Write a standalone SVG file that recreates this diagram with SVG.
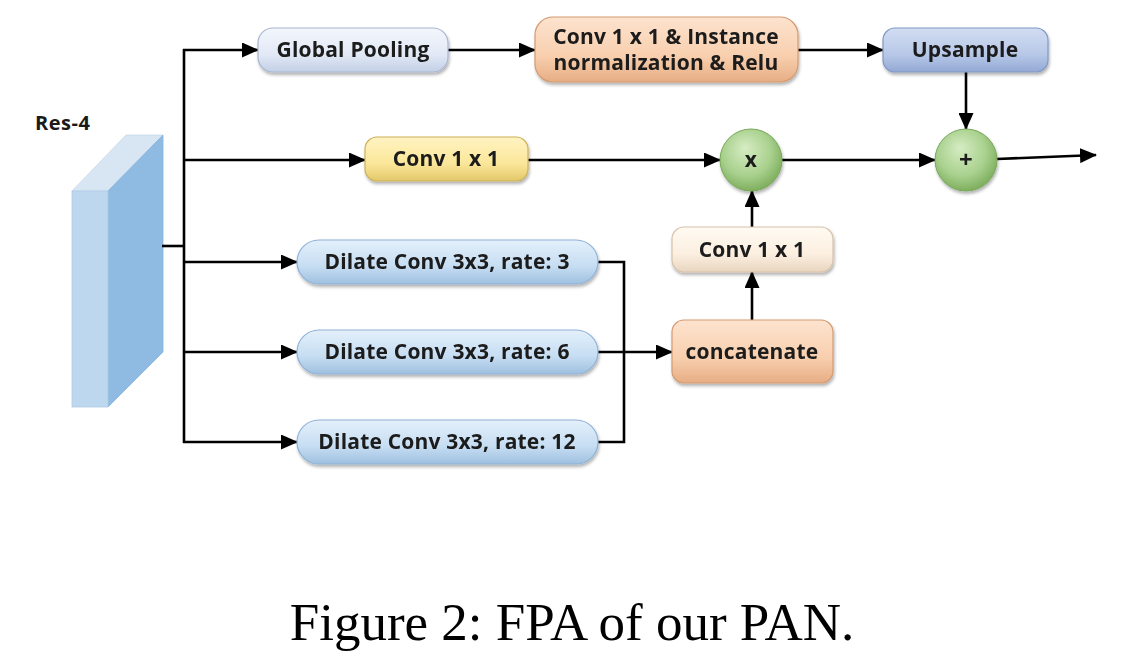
<svg xmlns="http://www.w3.org/2000/svg" width="1147" height="670" viewBox="0 0 1147 670">
<style>
.lbl{font-family:"Open Sans","Liberation Sans",sans-serif;font-weight:bold;font-size:21px;letter-spacing:0.2px;fill:#1a1a1a;text-anchor:middle}
.ln{fill:none;stroke:#000;stroke-width:2.6}
.cap{font-family:"Liberation Serif","Times New Roman",serif;font-size:53px;fill:#000;text-anchor:middle}
.box{stroke-width:1.2}
</style>
<defs>
<marker id="ah" markerUnits="userSpaceOnUse" markerWidth="17" markerHeight="15" refX="16" refY="7.5" orient="auto">
<path d="M0,0 L17,7.5 L0,15 Z" fill="#000"/>
</marker>
<filter id="sh" x="-10%" y="-20%" width="120%" height="150%">
<feDropShadow dx="1" dy="2.5" stdDeviation="1.5" flood-color="#000" flood-opacity="0.3"/>
</filter>
<linearGradient id="gGP" x1="0" y1="0" x2="0" y2="1"><stop offset="0" stop-color="#f3f6fc"/><stop offset="0.6" stop-color="#e2e9f6"/><stop offset="1" stop-color="#c3cfe6"/></linearGradient>
<linearGradient id="gPe" x1="0" y1="0" x2="0" y2="1"><stop offset="0" stop-color="#fde3cf"/><stop offset="0.6" stop-color="#f8cfae"/><stop offset="1" stop-color="#e6ad84"/></linearGradient>
<linearGradient id="gUp" x1="0" y1="0" x2="0" y2="1"><stop offset="0" stop-color="#d2ddf1"/><stop offset="0.6" stop-color="#b7c8e8"/><stop offset="1" stop-color="#93a9d4"/></linearGradient>
<linearGradient id="gYe" x1="0" y1="0" x2="0" y2="1"><stop offset="0" stop-color="#fff3c2"/><stop offset="0.6" stop-color="#fbe79a"/><stop offset="1" stop-color="#e2c86a"/></linearGradient>
<linearGradient id="gCr" x1="0" y1="0" x2="0" y2="1"><stop offset="0" stop-color="#fffaf3"/><stop offset="0.6" stop-color="#fcefe0"/><stop offset="1" stop-color="#e8d5bf"/></linearGradient>
<linearGradient id="gDi" x1="0" y1="0" x2="0" y2="1"><stop offset="0" stop-color="#e4f0fb"/><stop offset="0.6" stop-color="#c6ddf2"/><stop offset="1" stop-color="#9fc0e0"/></linearGradient>
<radialGradient id="gGr" cx="0.45" cy="0.4" r="0.6" fx="0.4" fy="0.3"><stop offset="0" stop-color="#d6ecc4"/><stop offset="0.65" stop-color="#a9d18e"/><stop offset="1" stop-color="#7faf5e"/></radialGradient>
</defs>

<g id="res4">
<text x="35" y="130" font-family="Open Sans,Liberation Sans,sans-serif" font-weight="bold" font-size="20" letter-spacing="0.5" fill="#1a1a1a">Res-4</text>
<polygon points="72,191 108,191 163,135 126,135" fill="#d8e6f4" stroke="#c8d8ea" stroke-width="0.8"/>
<polygon points="108,191 163,135 163,352 108,407" fill="#8fbbe3" stroke="#86b2da" stroke-width="0.8"/>
<rect x="72" y="191" width="36" height="216" fill="#bdd7ee" stroke="#b0cbe4" stroke-width="0.8"/>
</g>

<g id="connectors">
<line class="ln" x1="162" y1="246" x2="184" y2="246"/>
<line class="ln" x1="184" y1="49" x2="184" y2="443"/>
<line class="ln" x1="183" y1="50" x2="258" y2="50" marker-end="url(#ah)"/>
<line class="ln" x1="183" y1="160" x2="365" y2="160" marker-end="url(#ah)"/>
<line class="ln" x1="183" y1="262" x2="297" y2="262" marker-end="url(#ah)"/>
<line class="ln" x1="183" y1="352" x2="297" y2="352" marker-end="url(#ah)"/>
<line class="ln" x1="183" y1="442" x2="297" y2="442" marker-end="url(#ah)"/>
<line class="ln" x1="448" y1="50" x2="535" y2="50" marker-end="url(#ah)"/>
<line class="ln" x1="798" y1="50" x2="883" y2="50" marker-end="url(#ah)"/>
<line class="ln" x1="966" y1="72" x2="966" y2="129" marker-end="url(#ah)"/>
<line class="ln" x1="528" y1="160" x2="720" y2="160" marker-end="url(#ah)"/>
<line class="ln" x1="782" y1="160" x2="935" y2="160" marker-end="url(#ah)"/>
<line class="ln" x1="997" y1="159" x2="1096" y2="155" marker-end="url(#ah)"/>
<polyline class="ln" points="598,262 624,262 624,442 598,442"/>
<line class="ln" x1="598" y1="352" x2="672" y2="352" stroke-width="3.6" marker-end="url(#ah)"/>
<line class="ln" x1="752" y1="320" x2="752" y2="272" marker-end="url(#ah)"/>
<line class="ln" x1="752" y1="227" x2="752" y2="191" marker-end="url(#ah)"/>
</g>

<g id="global-pooling" filter="url(#sh)">
<rect class="box" x="258" y="28" width="190" height="44" rx="15" fill="url(#gGP)" stroke="#a9b6d0"/>
<text class="lbl" x="353" y="57">Global Pooling</text>
</g>

<g id="conv-in-relu" filter="url(#sh)">
<rect class="box" x="535" y="17" width="263" height="65" rx="18" fill="url(#gPe)" stroke="#d39b72"/>
<text class="lbl" x="666" y="44">Conv 1 x 1 &amp; Instance</text>
<text class="lbl" x="666" y="70">normalization &amp; Relu</text>
</g>

<g id="upsample" filter="url(#sh)">
<rect class="box" x="883" y="28" width="165" height="44" rx="12" fill="url(#gUp)" stroke="#8198c4"/>
<text class="lbl" x="965" y="57">Upsample</text>
</g>

<g id="conv1x1-a" filter="url(#sh)">
<rect class="box" x="365" y="137" width="163" height="44" rx="12" fill="url(#gYe)" stroke="#cdb25a"/>
<text class="lbl" x="446" y="166">Conv 1 x 1</text>
</g>

<g id="mul" filter="url(#sh)">
<circle cx="751" cy="160" r="31" fill="url(#gGr)" stroke="#78a85a" stroke-width="1"/>
<text class="lbl" x="751" y="167" font-size="20">x</text>
</g>

<g id="add" filter="url(#sh)">
<circle cx="966" cy="160" r="31" fill="url(#gGr)" stroke="#78a85a" stroke-width="1"/>
<text class="lbl" x="966" y="168" style="font-size:24px">+</text>
</g>

<g id="conv1x1-b" filter="url(#sh)">
<rect class="box" x="672" y="227" width="161" height="45" rx="12" fill="url(#gCr)" stroke="#d6c2aa"/>
<text class="lbl" x="752" y="257">Conv 1 x 1</text>
</g>

<g id="concatenate" filter="url(#sh)">
<rect class="box" x="672" y="320" width="161" height="63" rx="12" fill="url(#gPe)" stroke="#d39b72"/>
<text class="lbl" x="752" y="359">concatenate</text>
</g>

<g id="dilate3" filter="url(#sh)">
<rect class="box" x="297" y="240" width="301" height="44" rx="22" fill="url(#gDi)" stroke="#8fb2d6"/>
<text class="lbl" x="447" y="269">Dilate Conv 3x3, rate: 3</text>
</g>

<g id="dilate6" filter="url(#sh)">
<rect class="box" x="297" y="330" width="301" height="44" rx="22" fill="url(#gDi)" stroke="#8fb2d6"/>
<text class="lbl" x="447" y="359">Dilate Conv 3x3, rate: 6</text>
</g>

<g id="dilate12" filter="url(#sh)">
<rect class="box" x="297" y="420" width="301" height="44" rx="22" fill="url(#gDi)" stroke="#8fb2d6"/>
<text class="lbl" x="447" y="449">Dilate Conv 3x3, rate: 12</text>
</g>

<text class="cap" x="572" y="640">Figure 2: FPA of our PAN.</text>
</svg>
